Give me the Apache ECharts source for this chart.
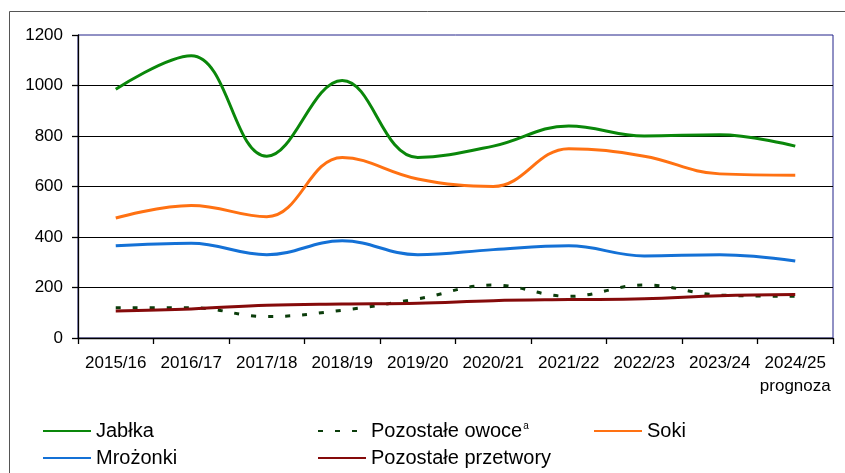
<!DOCTYPE html>
<html>
<head>
<meta charset="utf-8">
<script src="https://cdn.jsdelivr.net/npm/echarts@6/dist/echarts.min.js"></script>
<style>
  html, body { margin: 0; padding: 0; background: #fff; }
  #chart { width: 845px; height: 473px; }
</style>
</head>
<body>
<div id="chart"></div>
<script>
// dane (tys. ton)
const years = ['2015/16', '2016/17', '2017/18', '2018/19', '2019/20', '2020/21', '2021/22', '2022/23', '2023/24', '2024/25']
const jablka = [985, 1118, 720, 1020, 715, 760, 840, 800, 805, 760]
const pozostaleOwoce = [120, 120, 85, 110, 155, 210, 165, 210, 170, 165]
const soki = [475, 525, 480, 715, 630, 600, 750, 720, 650, 645]
const mrozonki = [365, 375, 330, 385, 330, 350, 365, 325, 330, 305]
const przetwory = [107, 115, 130, 135, 138, 148, 152, 155, 167, 172]
const yMin = 0
const yMax = 1200
const yStep = 200

const FONT = 'Liberation Sans'

const chart = echarts.init(document.getElementById('chart'))

function legendFor(name, left, top) {
  return {
    data: [name],
    left: left,
    top: top,
    padding: 0,
    itemWidth: 48,
    itemHeight: 14,
    selectedMode: false,
    itemStyle: { opacity: 0 },
    textStyle: {
      fontFamily: FONT,
      fontSize: 20,
      color: '#000',
      rich: {
        sup: { fontFamily: FONT, fontSize: 10, verticalAlign: 'top', color: '#000', padding: [0, 0, 10, 1] }
      }
    },
    formatter: (n) => n === 'Pozostałe owoce' ? 'Pozostałe owoce{sup|a}' : n
  }
}

function lineSeries(name, data, color, dashed) {
  return {
    name: name,
    type: 'line',
    data: data,
    smooth: 0.4,
    symbol: 'none',
    showSymbol: false,
    lineStyle: {
      color: color,
      width: 3,
      type: dashed ? [5, 12] : 'solid'
    },
    itemStyle: { color: color }
  }
}

const option = {
  backgroundColor: '#fff',
  animation: false,
  graphic: [
    {
      type: 'rect',
      shape: { x: 9.5, y: 11.5, width: 900, height: 500 },
      style: { fill: 'none', stroke: '#555', lineWidth: 1 },
      silent: true
    }
  ],
  grid: {
    left: 78,
    right: 12,
    top: 35,
    bottom: 135,
    show: true,
    borderColor: '#22228a',
    borderWidth: 1,
    backgroundColor: 'transparent'
  },
  legend: [
    legendFor('Jabłka', 42, 421),
    legendFor('Pozostałe owoce', 317, 421),
    legendFor('Soki', 593, 421),
    legendFor('Mrożonki', 42, 448),
    legendFor('Pozostałe przetwory', 317, 448)
  ],
  xAxis: {
    type: 'category',
    data: years,
    boundaryGap: true,
    axisLine: { show: true, lineStyle: { color: '#000', width: 1.3 } },
    axisTick: { show: true, length: 6, lineStyle: { color: '#000', width: 1.3 } },
    splitLine: { show: false },
    axisLabel: {
      interval: 0,
      hideOverlap: false,
      margin: 14,
      fontFamily: FONT,
      fontSize: 17,
      color: '#000',
      lineHeight: 23,
      formatter: (v) => v === '2024/25' ? v + '\nprognoza' : v
    }
  },
  yAxis: {
    type: 'value',
    min: yMin,
    max: yMax,
    interval: yStep,
    axisLine: { show: true, lineStyle: { color: '#000', width: 1.3 } },
    axisTick: { show: true, length: 6, lineStyle: { color: '#000', width: 1.3 } },
    splitLine: { show: true, showMaxLine: false, lineStyle: { color: '#000', width: 1.2 } },
    axisLabel: {
      margin: 15,
      fontFamily: FONT,
      fontSize: 17,
      color: '#000',
      formatter: (v) => String(v)
    }
  },
  series: [
    lineSeries('Jabłka', jablka, '#0a870a', false),
    lineSeries('Pozostałe owoce', pozostaleOwoce, '#0b3d0b', true),
    lineSeries('Soki', soki, '#ff7112', false),
    lineSeries('Mrożonki', mrozonki, '#1471d6', false),
    lineSeries('Pozostałe przetwory', przetwory, '#850a0a', false)
  ]
}

chart.setOption(option)
</script>
</body>
</html>
